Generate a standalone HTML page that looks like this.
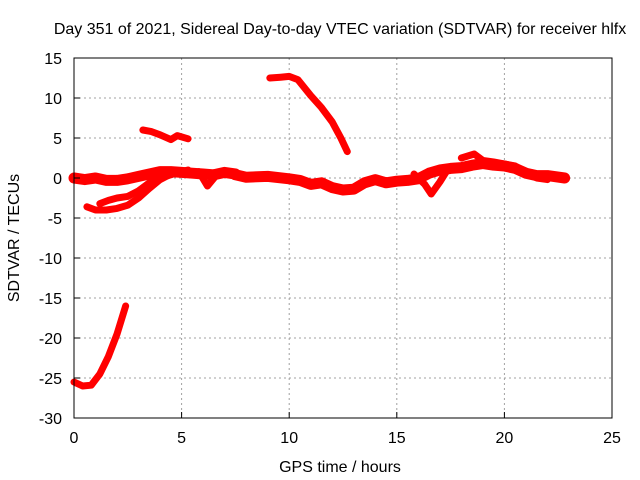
<!DOCTYPE html>
<html><head><meta charset="utf-8"><style>
html,body{margin:0;padding:0;background:#fff}
svg{display:block;font-family:"Liberation Sans",sans-serif;font-size:16px}
</style></head><body>
<svg id="chart" width="640" height="480">
<text x="340" y="34" text-anchor="middle">Day 351 of 2021, Sidereal Day-to-day VTEC variation (SDTVAR) for receiver hlfx</text>
<g id="grid"></g>
<g id="series"></g>
<rect x="74" y="58" width="538" height="360" fill="none" stroke="#000" stroke-width="1"/>
<g id="axes"></g>
<text x="340" y="472" text-anchor="middle">GPS time / hours</text>
<text transform="translate(19,238) rotate(-90)" text-anchor="middle">SDTVAR / TECUs</text>
</svg>
<script>
const xTicks=[0,5,10,15,20,25];
const yTicks=[15,10,5,0,-5,-10,-15,-20,-25,-30];
const seriesMainA=[[0,0],[0.5,-0.2],[1,0],[1.5,-0.3],[2,-0.3],[2.5,-0.1],[3,0.2],[3.5,0.5],[4,0.8],[4.5,0.8],[5,0.7],[5.5,0.6],[6,0.5],[6.5,0.4],[7,0.7],[7.5,0.5]];
const seriesMainB=[[7.5,0.4],[8,0.1],[9,0.2],[10,-0.1],[10.5,-0.3],[11,-0.8],[11.5,-0.6],[12,-1.2],[12.5,-1.5],[13,-1.4],[13.5,-0.6],[14,-0.2],[14.5,-0.6],[15,-0.4],[15.5,-0.3],[16,-0.1],[16.5,0.6],[17,1.0],[17.5,1.2],[18,1.3],[18.5,1.6],[19,1.8],[19.5,1.6],[20,1.5],[20.5,1.2],[21,0.6],[21.5,0.3],[22,0.3],[22.8,0.0]];
const seriesLow1=[[0.6,-3.6],[1,-4],[1.5,-4],[2,-3.8],[2.5,-3.4],[3,-2.5],[3.5,-1.3],[4,-0.2],[4.5,0.5],[5.3,1]];
const seriesLow2=[[1.2,-3.2],[1.6,-2.8],[2,-2.5],[2.5,-2.3],[3,-1.6],[3.5,-0.6],[4,0],[4.5,0.4],[5,0.9]];
const seriesDip1=[[5.8,0.8],[6.2,-1],[6.6,0.3]];
const seriesDip2=[[15.8,0.5],[16.3,-0.8],[16.6,-2],[17,-0.5],[17.3,0.8]];
const seriesUpper=[[18,2.5],[18.6,3],[19,2.2],[19.5,2],[20.5,1.5],[21.5,0],[22,-0.2]];
const seriesMid=[[3.2,6],[3.6,5.8],[4,5.4],[4.5,4.8],[4.8,5.3],[5.3,4.9]];
const seriesHigh=[[9.1,12.5],[9.6,12.6],[10,12.7],[10.4,12.3],[11,10.3],[11.5,8.8],[12,7],[12.4,5],[12.7,3.3]];
const seriesDeep=[[0,-25.5],[0.4,-26],[0.8,-25.9],[1.2,-24.5],[1.6,-22.3],[2,-19.5],[2.4,-16]];
const allSeries=[seriesMainA,seriesMainB,seriesLow1,seriesLow2,seriesDip1,seriesDip2,seriesUpper,seriesMid,seriesHigh,seriesDeep];
const NS="http://www.w3.org/2000/svg";
const X=v=>74+v*538/25, Y=v=>58+(15-v)*8;
const grid=document.getElementById('grid'),axes=document.getElementById('axes'),ser=document.getElementById('series');
function mk(t,a,p){const e=document.createElementNS(NS,t);for(const k in a)e.setAttribute(k,a[k]);p.appendChild(e);return e;}
xTicks.forEach(t=>{
 if(t>0&&t<25){const g=mk('line',{x1:X(t),x2:X(t),y1:58,y2:418,stroke:'#a0a0a0','stroke-dasharray':'2,3'},grid);
 }
 const tk=mk('line',{x1:X(t),x2:X(t),y1:418,y2:412,stroke:'#000'},axes);
 
 const l=mk('text',{x:X(t),y:443,'text-anchor':'middle'},axes);l.textContent=t;
 
});
yTicks.forEach(t=>{
 if(t<15&&t>-30){const g=mk('line',{x1:74,x2:612,y1:Y(t),y2:Y(t),stroke:'#a0a0a0','stroke-dasharray':'2,3'},grid);
 }
 const tk=mk('line',{x1:74,x2:80,y1:Y(t),y2:Y(t),stroke:'#000'},axes);
 
 const l=mk('text',{x:62,y:Y(t)+6,'text-anchor':'end'},axes);l.textContent=t;
 
});
allSeries.forEach((s,i)=>{
 const w=(i<2)?11:7;
 const p=mk('polyline',{points:s.map(d=>X(d[0])+','+Y(d[1])).join(' '),fill:'none',stroke:'#ff0000','stroke-width':w,'stroke-linejoin':'round','stroke-linecap':'round'},ser);
 
 
});
</script>
</body></html>
